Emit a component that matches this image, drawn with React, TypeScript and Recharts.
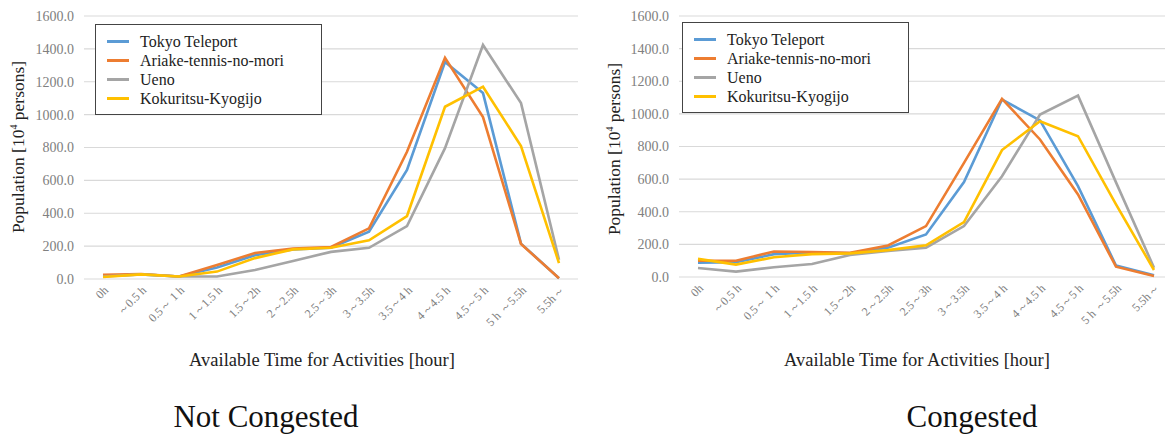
import { LineChart, Line, XAxis, YAxis, CartesianGrid } from 'recharts'

const categories = ['0h', '～0.5 h', '0.5～ 1 h', '1～1.5 h', '1.5～2h', '2～2.5h', '2.5～3h', '3～3.5h', '3.5～4 h', '4～4.5 h', '4.5～5 h', '5 h ～5.5h', '5.5h～']
const yTicks = [0, 200, 400, 600, 800, 1000, 1200, 1400, 1600]

const seriesNames = ['Tokyo Teleport', 'Ariake-tennis-no-mori', 'Ueno', 'Kokuritsu-Kyogijo']
const seriesColors = ['#5B9BD5', '#ED7D31', '#A5A5A5', '#FFC000']

// not congested
const tokyoFree = [18, 28, 15, 70, 145, 180, 190, 288, 663, 1320, 1131, 215, 5]
const ariakeFree = [25, 30, 15, 85, 158, 185, 195, 308, 774, 1346, 985, 213, 5]
const uenoFree = [15, 28, 15, 15, 55, 110, 165, 190, 322, 796, 1424, 1070, 117]
const kokuritsuFree = [12, 28, 15, 45, 127, 180, 190, 235, 383, 1048, 1170, 809, 97]

// congested
const tokyoJam = [88, 90, 140, 150, 145, 180, 261, 582, 1088, 960, 557, 70, 10]
const ariakeJam = [100, 100, 156, 153, 148, 193, 312, 700, 1092, 843, 506, 63, 6]
const uenoJam = [55, 33, 60, 80, 135, 160, 180, 312, 618, 996, 1112, 580, 57]
const kokuritsuJam = [111, 76, 121, 140, 145, 165, 194, 337, 778, 955, 863, 445, 43]

const serif = "'Times New Roman', 'Liberation Serif', 'DejaVu Serif', serif"

function buildRows(series: number[][]) {
  return categories.map((c, i) => {
    const row: Record<string, string | number> = { name: c }
    seriesNames.forEach((s, j) => {
      row[s] = series[j][i]
    })
    return row
  })
}

function SlantTick(props: any) {
  const { x, y, payload } = props
  const ax = x + 6
  const ay = y + 12
  return (
    <text
      x={ax}
      y={ay}
      textAnchor="end"
      fontSize={12}
      fill="#808080"
      style={{ fontFamily: serif }}
      transform={`rotate(-45, ${ax}, ${ay})`}
    >
      {payload.value}
    </text>
  )
}

function LegendBox({ left, top }: { left: number; top: number }) {
  return (
    <div
      style={{
        position: 'absolute',
        left,
        top,
        width: 227,
        height: 91,
        boxSizing: 'border-box',
        border: '1.5px solid #444',
        background: '#fff',
        fontFamily: serif,
        fontSize: 16,
        color: '#222',
      }}
    >
      {seriesNames.map((s, i) => (
        <div key={s} style={{ position: 'absolute', left: 0, top: 7 + i * 19, height: 19, display: 'flex', alignItems: 'center' }}>
          <div style={{ marginLeft: 11, width: 22, height: 2.5, background: seriesColors[i] }} />
          <span style={{ marginLeft: 11, whiteSpace: 'nowrap' }}>{s}</span>
        </div>
      ))}
    </div>
  )
}

interface PanelProps {
  left: number
  height: number
  series: number[][]
  legendLeft: number
  legendTop: number
  yTitleX: number
  yTitleY: number
  xTitleX: number
  caption: string
  captionX: number
}

function Panel({ left, height, series, legendLeft, legendTop, yTitleX, yTitleY, xTitleX, caption, captionX }: PanelProps) {
  const rows = buildRows(series)
  return (
    <>
      <div style={{ position: 'absolute', left, top: 0 }}>
        <LineChart width={580} height={height} data={rows} margin={{ top: 16, right: 2, left: 24, bottom: 0 }}>
          <CartesianGrid vertical={false} stroke="#d9d9d9" strokeWidth={1.2} />
          <XAxis
            dataKey="name"
            axisLine={false}
            tickLine={false}
            tickSize={0}
            tickMargin={0}
            interval={0}
            height={71}
            padding={{ left: 19, right: 19 }}
            tick={<SlantTick />}
          />
          <YAxis
            domain={[0, 1600]}
            ticks={yTicks}
            width={60}
            axisLine={false}
            tickLine={false}
            tickSize={0}
            tickMargin={10}
            tickFormatter={(v) => Number(v).toFixed(1)}
            tick={{ fontSize: 14, fill: '#808080', style: { fontFamily: serif } }}
          />
          {seriesNames.map((s, i) => (
            <Line
              key={s}
              type="linear"
              dataKey={s}
              stroke={seriesColors[i]}
              strokeWidth={2.6}
              dot={false}
              isAnimationActive={false}
            />
          ))}
        </LineChart>
      </div>
      <LegendBox left={legendLeft} top={legendTop} />
      <div
        style={{
          position: 'absolute',
          left: yTitleX - 100,
          top: yTitleY - 11,
          width: 200,
          height: 22,
          lineHeight: '22px',
          textAlign: 'center',
          transform: 'rotate(-90deg)',
          fontFamily: serif,
          fontSize: 17.5,
          color: '#222',
          whiteSpace: 'nowrap',
        }}
      >
        Population [10<sup style={{ fontSize: 10, verticalAlign: 'super', lineHeight: 0 }}>4</sup> persons]
      </div>
      <div
        style={{
          position: 'absolute',
          left: xTitleX - 150,
          top: 349,
          width: 300,
          textAlign: 'center',
          fontFamily: serif,
          fontSize: 18.5,
          color: '#222',
          lineHeight: '22px',
        }}
      >
        Available Time for Activities [hour]
      </div>
      <div
        style={{
          position: 'absolute',
          left: captionX - 150,
          top: 398,
          width: 300,
          textAlign: 'center',
          fontFamily: serif,
          fontSize: 31,
          color: '#111',
          lineHeight: '38px',
        }}
      >
        {caption}
      </div>
    </>
  )
}

export default function App() {
  return (
    <div style={{ position: 'absolute', left: 0, top: 0, width: 1165, height: 435, overflow: 'hidden', background: '#fff' }}>
      <Panel
        left={0}
        height={350}
        series={[tokyoFree, ariakeFree, uenoFree, kokuritsuFree]}
        legendLeft={95}
        legendTop={24}
        yTitleX={18}
        yTitleY={147}
        xTitleX={322}
        caption="Not Congested"
        captionX={266}
      />
      <Panel
        left={595}
        height={348}
        series={[tokyoJam, ariakeJam, uenoJam, kokuritsuJam]}
        legendLeft={682}
        legendTop={22}
        yTitleX={614}
        yTitleY={149}
        xTitleX={917}
        caption="Congested"
        captionX={972}
      />
    </div>
  )
}
